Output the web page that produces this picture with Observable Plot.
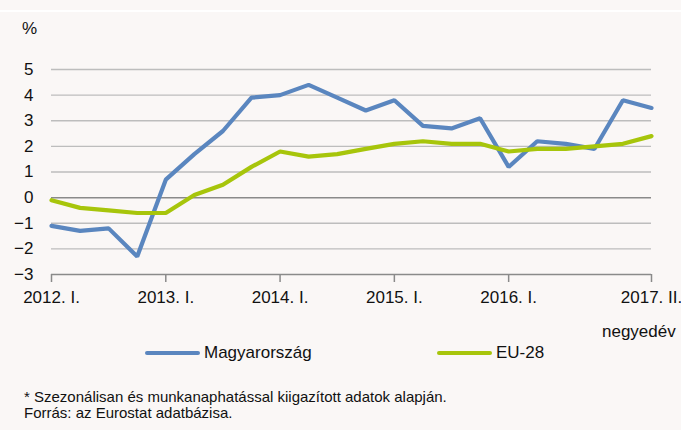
<!DOCTYPE html>
<html>
<head>
<meta charset="utf-8">
<script src="https://cdn.jsdelivr.net/npm/d3@7"></script>
<script src="https://cdn.jsdelivr.net/npm/@observablehq/plot@0.6"></script>
<style>
  html, body { margin: 0; padding: 0; background: #faf7f6; width: 681px; height: 430px; overflow: hidden; }
  body { position: relative; font-family: 'Liberation Sans', Arial, sans-serif; color: #111; }
  #topline { position: absolute; left: 0; top: 10px; width: 681px; height: 2px; background: #ffffff; }
  #chart { position: absolute; left: 0; top: 0; }
  .lbl { position: absolute; white-space: nowrap; }
  #unit { left: 22px; top: 19px; font-size: 17px; }
  #qlab { left: 602px; top: 322px; font-size: 17px; }
  .leg { position: absolute; top: 343px; font-size: 17px; white-space: nowrap; }
  .leg .sw { display: inline-block; width: 55px; height: 4px; border-radius: 2px; vertical-align: middle; margin-right: 4px; position: relative; top: -1px; }
  #foot { left: 24px; top: 389px; font-size: 15px; line-height: 16px; }
</style>
</head>
<body>
<div id="topline"></div>
<div id="chart"></div>
<div class="lbl" id="unit">%</div>
<div class="lbl" id="qlab">negyedév</div>
<div class="leg" id="leg1" style="left:145px"><span class="sw" style="background:#5a86bf"></span>Magyarország</div>
<div class="leg" id="leg2" style="left:437px"><span class="sw" style="background:#a7c50b"></span>EU-28</div>
<div class="lbl" id="foot">* Szezonálisan és munkanaphatással kiigazított adatok alapján.<br>Forrás: az Eurostat adatbázisa.</div>
<script>
const quarters = [
  "2012. I.", "2012. II.", "2012. III.", "2012. IV.",
  "2013. I.", "2013. II.", "2013. III.", "2013. IV.",
  "2014. I.", "2014. II.", "2014. III.", "2014. IV.",
  "2015. I.", "2015. II.", "2015. III.", "2015. IV.",
  "2016. I.", "2016. II.", "2016. III.", "2016. IV.",
  "2017. I.", "2017. II."
];
const hungary = [-1.1, -1.3, -1.2, -2.3, 0.7, 1.7, 2.6, 3.9, 4.0, 4.4, 3.9, 3.4, 3.8, 2.8, 2.7, 3.1, 1.2, 2.2, 2.1, 1.9, 3.8, 3.5];
const eu28 = [-0.1, -0.4, -0.5, -0.6, -0.6, 0.1, 0.5, 1.2, 1.8, 1.6, 1.7, 1.9, 2.1, 2.2, 2.1, 2.1, 1.8, 1.9, 1.9, 2.0, 2.1, 2.4];
const xTicks = ["2012. I.", "2013. I.", "2014. I.", "2015. I.", "2016. I.", "2017. II."];
const yTicks = [-3, -2, -1, 0, 1, 2, 3, 4, 5];
const seriesNames = ["Magyarország", "EU-28"];
const seriesColors = ["#5a86bf", "#a7c50b"];

const rows = [];
quarters.forEach((q, i) => {
  rows.push({q, v: hungary[i], s: seriesNames[0]});
  rows.push({q, v: eu28[i], s: seriesNames[1]});
});

const fmt = d => d < 0 ? "\u2212" + Math.abs(d) : String(d);

const plot = Plot.plot({
  width: 681,
  height: 310,
  marginLeft: 51,
  marginRight: 30,
  marginTop: 69,
  marginBottom: 36,
  style: {background: "transparent", fontFamily: "'Liberation Sans', Arial, sans-serif", fontSize: "17px", color: "#111"},
  x: {type: "point", domain: quarters, padding: 0, round: false, axis: null},
  y: {domain: [-3, 5], axis: null},
  color: {domain: seriesNames, range: seriesColors},
  marks: [
    Plot.ruleY(yTicks.filter(d => d !== 0 && d !== -3), {stroke: "#bdbdbd", strokeWidth: 1.3}),
    Plot.ruleY([0], {stroke: "#8a8a8a", strokeWidth: 1.5}),
    Plot.ruleY([-3], {stroke: "#8a8a8a", strokeWidth: 1.5}),
    Plot.axisX({ticks: xTicks, tickSize: 8, tickPadding: 8, stroke: "#8a8a8a", strokeWidth: 1.5, fill: "#111", fontSize: 17, label: null}),
    Plot.axisY({ticks: yTicks, tickSize: 0, tickPadding: 18, tickFormat: fmt, fill: "#111", fontSize: 17, label: null}),
    Plot.line(rows, {x: "q", y: "v", z: "s", stroke: "s", strokeWidth: 4.2, strokeLinejoin: "miter", strokeLinecap: "round"})
  ]
});
document.getElementById("chart").appendChild(plot);
</script>
</body>
</html>
